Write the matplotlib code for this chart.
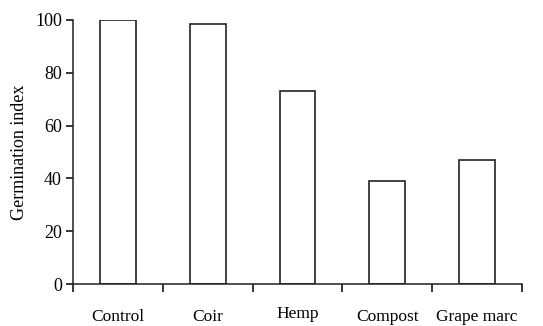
import numpy as np
import matplotlib.pyplot as plt

treatments = ["Control", "Coir", "Hemp", "Compost", "Grape marc"]
germination = [100, 98.5, 73, 39, 47]

plt.rcParams["font.family"] = ["Liberation Serif", "DejaVu Serif"]

fig = plt.figure(figsize=(5.43, 3.26), dpi=100)
ax = fig.add_axes([0.1344, 0.1288, 0.8269, 0.8099])

x = np.arange(len(treatments))
ax.bar(x, germination, width=0.4, color="white", edgecolor="#222222", linewidth=1.2)

ax.set_xlim(-0.5, len(treatments) - 0.5)
ax.set_ylim(0, 100)
ax.set_yticks(np.arange(0, 101, 20))
ax.tick_params(axis="y", direction="out", length=5, width=1.1, labelsize=13, pad=3)

# boundary ticks between groups, labels sit on minor ticks at bar centres
ax.set_xticks(np.arange(-0.5, len(treatments)), labels=[""] * (len(treatments) + 1))
ax.tick_params(axis="x", which="major", direction="out", length=6, width=1.1)
ax.set_xticks(x, labels=treatments, minor=True)
ax.tick_params(axis="x", which="minor", length=0, labelsize=12.5, pad=18)
ax.get_xticklabels(minor=True)[2].set_y(0.012)

for side in ["top", "right"]:
    ax.spines[side].set_visible(False)
for side in ["left", "bottom"]:
    ax.spines[side].set_linewidth(1.1)
    ax.spines[side].set_color("#222222")

ax.set_ylabel("Germination index", fontsize=13, labelpad=5)

fig.savefig("out.png", dpi=100)
